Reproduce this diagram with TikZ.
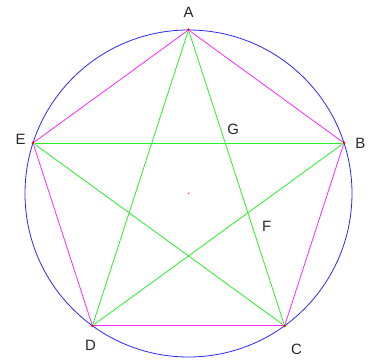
\documentclass[tikz,border=0pt]{standalone}
\usepackage{fontspec}
\setmainfont{Liberation Sans}
\usetikzlibrary{positioning,calc}
\definecolor{RingBlue}{RGB}{40,40,255}
\definecolor{SidePink}{RGB}{255,40,255}
\definecolor{StarGreen}{RGB}{40,240,40}
\definecolor{DotRed}{RGB}{255,0,0}

\begin{document}
\begin{tikzpicture}[x=1bp, y=1bp,
    vtx/.style={circle, fill=DotRed, inner sep=0pt, minimum size=3bp},
    mid/.style={circle, fill=DotRed!60, inner sep=0pt, minimum size=2bp},
    lbl/.style={font=\fontsize{15}{18}\selectfont, text=black!85,
                inner sep=0pt},
    ring/.style={draw=RingBlue, line width=0.8bp},
    side/.style={draw=SidePink, line width=0.8bp},
    star/.style={draw=StarGreen, line width=0.8bp},
  ]
    \useasboundingbox (0,0) rectangle (371,360);

    % -- circle and its centre ----------------------------------------------
    \coordinate (O) at (188.5,166.5);
    \draw[ring] (O) circle (163.5);

    % -- the five corners -----------------------------------------------------
    \foreach \n/\a in {A/90, B/18, C/-54, D/-126, E/162}
      \node[vtx] (\n) at ($(O)+(\a:163.5)$) {};

    % -- pentagon -------------------------------------------------------------
    \foreach \a/\b in {A/B, B/C, C/D, D/E, E/A}
      \draw[side] (\a) -- (\b);

    % -- pentagram ------------------------------------------------------------
    \foreach \a/\b in {A/C, C/E, E/B, B/D, D/A}
      \draw[star] (\a) -- (\b);

    \node[mid] (o) at (O) {};

    % -- crossing points on AC ------------------------------------------------
    \coordinate (g) at ($(A)!0.382!(C)$);
    \coordinate (f) at ($(A)!0.618!(C)$);

    % -- labels ---------------------------------------------------------------
    \node[lbl, above=11bp of A]               (lA) {A};
    \node[lbl, right=9.5bp of B]              (lB) {B};
    \node[lbl, below=16.5bp of C, xshift=12bp] (lC) {C};
    \node[lbl, below=12.5bp of D, xshift=-2bp] (lD) {D};
    \node[lbl, left=5.5bp of E, yshift=4bp]   (lE) {E};
    \node[lbl, above right=8bp and 2bp of g]  (lG) {G};
    \node[lbl, below right=8bp and 14bp of f] (lF) {F};
  \end{tikzpicture}
\end{document}
